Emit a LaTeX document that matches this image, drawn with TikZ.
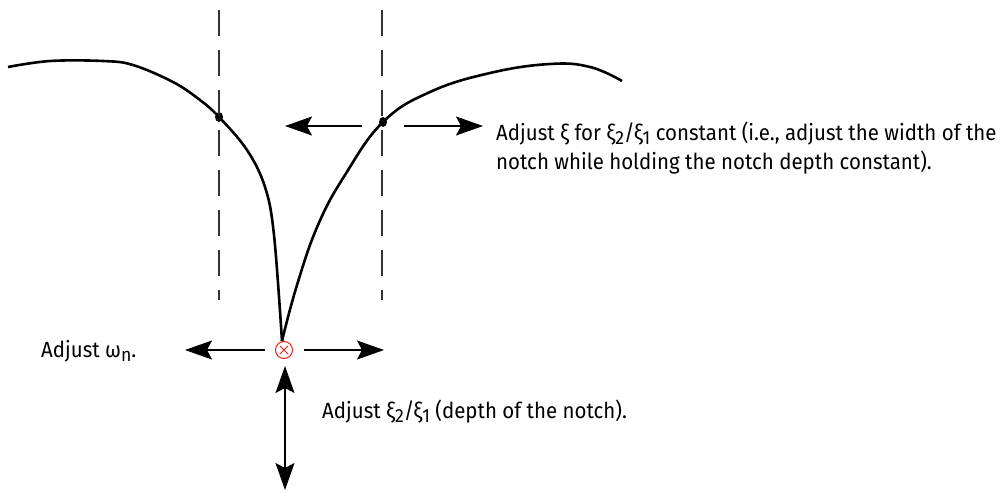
\documentclass[tikz,border=0pt]{standalone}
\usepackage{fontspec}
\setmainfont{Fira Sans}[FakeStretch=0.93]
\usetikzlibrary{arrows.meta}
\usetikzlibrary{positioning}
\usetikzlibrary{shapes.geometric}
\definecolor{red}{rgb}{1,0.1,0.1}
\newcommand{\lsub}[1]{\raisebox{-0.35ex}{\fontsize{19}{19}\selectfont #1}}

\begin{document}
\begin{tikzpicture}[x=1pt, y=-1pt,
		c/.style = {line width=2.6pt, line join=round},
		v/.style = {draw=black!80, line width=1.6pt, dash pattern=on 26pt off 14pt},
		r/.style = {line width=1.3pt},
		p/.style = {ellipse, fill=black, inner sep=0pt, minimum width=8pt, minimum height=10pt},
		m/.style = {circle, draw=red, line width=1pt, inner sep=0pt, minimum size=17pt},
		l/.style = {anchor=base west, inner sep=0pt, align=left, font=\fontsize{22}{29}\selectfont},
		>={Stealth[length=27pt, width=19pt, inset=5pt]}
		]
		\useasboundingbox (0,0) rectangle (1008,492);
		
		%Nodes
		\coordinate	(vl1)	at	(219, 10);
		\coordinate	(vl2)	at	(219, 300);
		\coordinate	(vr1)	at	(382, 10);
		\coordinate	(vr2)	at	(382, 300);
		
		\node[p]	(pl)	at	(219, 117)	{};
		\node[p]	(pr)	at	(383, 122)	{};
		\node[m]	(nw)	at	(284, 350)	{};
		
		\coordinate	(u1)	at	(362, 126);
		\coordinate	(u1e)	at	(285, 126);
		\coordinate	(u2)	at	(404, 126);
		\coordinate	(u2e)	at	(483, 126);
		
		\coordinate	(h1)	at	(265, 350);
		\coordinate	(h1e)	at	(185, 350);
		\coordinate	(h2)	at	(304, 350);
		\coordinate	(h2e)	at	(384, 350);
		
		\coordinate	(d1)	at	(285, 366);
		\coordinate	(d2)	at	(285, 490);
		
		\node[l]	(txi)	at	(496, 169)	{Adjust ξ for ξ\lsub{2}/ξ\lsub{1} constant (i.e., adjust the width of the\\notch while holding the notch depth constant).};
		\node[l]	(txw)	at	(41, 357)	{Adjust ω\lsub{n}.};
		\node[l]	(txd)	at	(322, 418)	{Adjust ξ\lsub{2}/ξ\lsub{1} (depth of the notch).};
		
		%Lines
		\draw[v]	(vl1)	--	(vl2);
		\draw[v]	(vr1)	--	(vr2);
		
		\draw[c]	plot[smooth, tension=0.6] coordinates {(8,67) (50,61) (103,61) (133,65) (173,82) (200,100) (219,117) (247,150) (265,187) (274,235) (282,341)};
		\draw[c]	plot[smooth, tension=0.7] coordinates {(282,341) (297,285) (318,225) (345,175) (383,122) (430,92) (490,73) (550,64) (590,67) (622,81)};
		
		\draw[red, line width=0.9pt]	([shift={(-4,-4)}]nw.center)	--	([shift={(4,4)}]nw.center);
		\draw[red, line width=0.9pt]	([shift={(-4,4)}]nw.center)	--	([shift={(4,-4)}]nw.center);
		
		\draw[r, ->]	(u1)	--	(u1e);
		\draw[r, ->]	(u2)	--	(u2e);
		\draw[r, ->]	(h1)	--	(h1e);
		\draw[r, ->]	(h2)	--	(h2e);
		\draw[r, <->]	(d1)	--	(d2);
	\end{tikzpicture}
\end{document}
